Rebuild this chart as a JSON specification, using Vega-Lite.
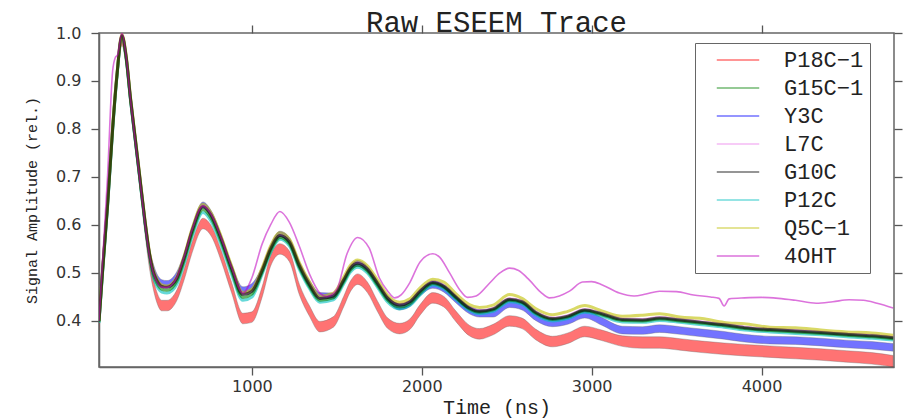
{
"$schema":"https://vega.github.io/schema/vega-lite/v6.json",
"width":795,"height":334,
"autosize":{"type":"none"},
"padding":{"left":99,"top":33,"right":17,"bottom":52},
"background":"white",
"title":{"text":"Raw ESEEM Trace","font":"Liberation Mono","fontSize":29,"fontWeight":"normal","color":"#222","offset":-14,"anchor":"middle"},
"config":{
"view":{"stroke":"#666","strokeWidth":1.5},
"axis":{"grid":false,"domainColor":"#666","domainWidth":1.5,"tickColor":"#555","tickWidth":1.3,"tickSize":8,"labelFont":"DejaVu Sans","labelFontSize":16,"labelColor":"#333","titleFont":"Liberation Mono","titleColor":"#222","titleFontWeight":"normal"}
},
"datasets":{
"bands":[
{"s":"P18C−1","t":100,"lo":0.379,"hi":0.401},{"s":"P18C−1","t":120,"lo":0.479,"hi":0.501},{"s":"P18C−1","t":150,"lo":0.619,"hi":0.641},{"s":"P18C−1","t":180,"lo":0.779,"hi":0.801},{"s":"P18C−1","t":205,"lo":0.889,"hi":0.911},{"s":"P18C−1","t":235,"lo":0.974,"hi":0.996},{"s":"P18C−1","t":260,"lo":0.929,"hi":0.951},{"s":"P18C−1","t":285,"lo":0.844,"hi":0.866},{"s":"P18C−1","t":310,"lo":0.769,"hi":0.791},{"s":"P18C−1","t":340,"lo":0.679,"hi":0.701},{"s":"P18C−1","t":370,"lo":0.584,"hi":0.606},{"s":"P18C−1","t":395,"lo":0.514,"hi":0.536},{"s":"P18C−1","t":418,"lo":0.469,"hi":0.491},{"s":"P18C−1","t":440,"lo":0.439,"hi":0.461},{"s":"P18C−1","t":470,"lo":0.421,"hi":0.443},{"s":"P18C−1","t":500,"lo":0.421,"hi":0.443},{"s":"P18C−1","t":530,"lo":0.427,"hi":0.449},{"s":"P18C−1","t":560,"lo":0.444,"hi":0.466},{"s":"P18C−1","t":600,"lo":0.484,"hi":0.506},{"s":"P18C−1","t":650,"lo":0.544,"hi":0.566},{"s":"P18C−1","t":712,"lo":0.592,"hi":0.614},{"s":"P18C−1","t":760,"lo":0.577,"hi":0.599},{"s":"P18C−1","t":820,"lo":0.524,"hi":0.546},{"s":"P18C−1","t":880,"lo":0.459,"hi":0.481},{"s":"P18C−1","t":947,"lo":0.394,"hi":0.416},{"s":"P18C−1","t":1000,"lo":0.397,"hi":0.419},{"s":"P18C−1","t":1060,"lo":0.449,"hi":0.471},{"s":"P18C−1","t":1110,"lo":0.514,"hi":0.536},{"s":"P18C−1","t":1165,"lo":0.539,"hi":0.561},{"s":"P18C−1","t":1220,"lo":0.524,"hi":0.546},{"s":"P18C−1","t":1280,"lo":0.454,"hi":0.476},{"s":"P18C−1","t":1340,"lo":0.409,"hi":0.431},{"s":"P18C−1","t":1400,"lo":0.377,"hi":0.399},{"s":"P18C−1","t":1480,"lo":0.387,"hi":0.409},{"s":"P18C−1","t":1540,"lo":0.429,"hi":0.451},{"s":"P18C−1","t":1580,"lo":0.461,"hi":0.483},{"s":"P18C−1","t":1623,"lo":0.476,"hi":0.498},{"s":"P18C−1","t":1680,"lo":0.459,"hi":0.481},{"s":"P18C−1","t":1740,"lo":0.419,"hi":0.441},{"s":"P18C−1","t":1800,"lo":0.384,"hi":0.406},{"s":"P18C−1","t":1870,"lo":0.373,"hi":0.395},{"s":"P18C−1","t":1930,"lo":0.382,"hi":0.404},{"s":"P18C−1","t":1990,"lo":0.412,"hi":0.434},{"s":"P18C−1","t":2065,"lo":0.437,"hi":0.459},{"s":"P18C−1","t":2130,"lo":0.429,"hi":0.451},{"s":"P18C−1","t":2200,"lo":0.399,"hi":0.421},{"s":"P18C−1","t":2280,"lo":0.369,"hi":0.391},{"s":"P18C−1","t":2340,"lo":0.362,"hi":0.384},{"s":"P18C−1","t":2420,"lo":0.371,"hi":0.393},{"s":"P18C−1","t":2517,"lo":0.389,"hi":0.411},{"s":"P18C−1","t":2590,"lo":0.384,"hi":0.406},{"s":"P18C−1","t":2670,"lo":0.361,"hi":0.383},{"s":"P18C−1","t":2770,"lo":0.346,"hi":0.368},{"s":"P18C−1","t":2860,"lo":0.353,"hi":0.375},{"s":"P18C−1","t":2960,"lo":0.367,"hi":0.389},{"s":"P18C−1","t":3060,"lo":0.359,"hi":0.381},{"s":"P18C−1","t":3180,"lo":0.347,"hi":0.369},{"s":"P18C−1","t":3300,"lo":0.343,"hi":0.367},{"s":"P18C−1","t":3400,"lo":0.343,"hi":0.367},{"s":"P18C−1","t":3520,"lo":0.339,"hi":0.363},{"s":"P18C−1","t":3650,"lo":0.334,"hi":0.358},{"s":"P18C−1","t":3780,"lo":0.33,"hi":0.354},{"s":"P18C−1","t":3900,"lo":0.327,"hi":0.351},{"s":"P18C−1","t":4050,"lo":0.324,"hi":0.348},{"s":"P18C−1","t":4200,"lo":0.321,"hi":0.345},{"s":"P18C−1","t":4350,"lo":0.318,"hi":0.342},{"s":"P18C−1","t":4500,"lo":0.314,"hi":0.338},{"s":"P18C−1","t":4650,"lo":0.31,"hi":0.334},{"s":"P18C−1","t":4775,"lo":0.304,"hi":0.328},
{"s":"Y3C","t":100,"lo":0.394,"hi":0.406},{"s":"Y3C","t":120,"lo":0.494,"hi":0.506},{"s":"Y3C","t":150,"lo":0.634,"hi":0.646},{"s":"Y3C","t":180,"lo":0.794,"hi":0.806},{"s":"Y3C","t":205,"lo":0.904,"hi":0.916},{"s":"Y3C","t":235,"lo":0.989,"hi":1.0},{"s":"Y3C","t":260,"lo":0.944,"hi":0.956},{"s":"Y3C","t":285,"lo":0.859,"hi":0.871},{"s":"Y3C","t":310,"lo":0.784,"hi":0.796},{"s":"Y3C","t":340,"lo":0.694,"hi":0.706},{"s":"Y3C","t":370,"lo":0.604,"hi":0.616},{"s":"Y3C","t":395,"lo":0.542,"hi":0.554},{"s":"Y3C","t":418,"lo":0.509,"hi":0.521},{"s":"Y3C","t":440,"lo":0.487,"hi":0.499},{"s":"Y3C","t":470,"lo":0.474,"hi":0.486},{"s":"Y3C","t":500,"lo":0.472,"hi":0.484},{"s":"Y3C","t":530,"lo":0.477,"hi":0.489},{"s":"Y3C","t":560,"lo":0.492,"hi":0.504},{"s":"Y3C","t":600,"lo":0.528,"hi":0.54},{"s":"Y3C","t":650,"lo":0.588,"hi":0.6},{"s":"Y3C","t":712,"lo":0.636,"hi":0.648},{"s":"Y3C","t":760,"lo":0.618,"hi":0.63},{"s":"Y3C","t":820,"lo":0.568,"hi":0.58},{"s":"Y3C","t":880,"lo":0.508,"hi":0.52},{"s":"Y3C","t":947,"lo":0.459,"hi":0.471},{"s":"Y3C","t":1000,"lo":0.466,"hi":0.478},{"s":"Y3C","t":1060,"lo":0.502,"hi":0.514},{"s":"Y3C","t":1110,"lo":0.547,"hi":0.559},{"s":"Y3C","t":1165,"lo":0.575,"hi":0.587},{"s":"Y3C","t":1220,"lo":0.562,"hi":0.574},{"s":"Y3C","t":1280,"lo":0.512,"hi":0.524},{"s":"Y3C","t":1340,"lo":0.472,"hi":0.484},{"s":"Y3C","t":1400,"lo":0.447,"hi":0.459},{"s":"Y3C","t":1480,"lo":0.446,"hi":0.458},{"s":"Y3C","t":1540,"lo":0.479,"hi":0.491},{"s":"Y3C","t":1580,"lo":0.504,"hi":0.516},{"s":"Y3C","t":1623,"lo":0.514,"hi":0.526},{"s":"Y3C","t":1680,"lo":0.502,"hi":0.514},{"s":"Y3C","t":1740,"lo":0.472,"hi":0.484},{"s":"Y3C","t":1800,"lo":0.441,"hi":0.453},{"s":"Y3C","t":1870,"lo":0.423,"hi":0.435},{"s":"Y3C","t":1930,"lo":0.43,"hi":0.442},{"s":"Y3C","t":1990,"lo":0.452,"hi":0.464},{"s":"Y3C","t":2065,"lo":0.468,"hi":0.484},{"s":"Y3C","t":2130,"lo":0.46,"hi":0.476},{"s":"Y3C","t":2200,"lo":0.438,"hi":0.454},{"s":"Y3C","t":2280,"lo":0.415,"hi":0.431},{"s":"Y3C","t":2340,"lo":0.408,"hi":0.424},{"s":"Y3C","t":2420,"lo":0.408,"hi":0.424},{"s":"Y3C","t":2517,"lo":0.428,"hi":0.444},{"s":"Y3C","t":2590,"lo":0.423,"hi":0.439},{"s":"Y3C","t":2670,"lo":0.401,"hi":0.417},{"s":"Y3C","t":2770,"lo":0.388,"hi":0.404},{"s":"Y3C","t":2860,"lo":0.393,"hi":0.409},{"s":"Y3C","t":2960,"lo":0.406,"hi":0.422},{"s":"Y3C","t":3060,"lo":0.391,"hi":0.407},{"s":"Y3C","t":3180,"lo":0.373,"hi":0.389},{"s":"Y3C","t":3300,"lo":0.372,"hi":0.388},{"s":"Y3C","t":3400,"lo":0.376,"hi":0.392},{"s":"Y3C","t":3520,"lo":0.372,"hi":0.388},{"s":"Y3C","t":3650,"lo":0.367,"hi":0.383},{"s":"Y3C","t":3780,"lo":0.362,"hi":0.378},{"s":"Y3C","t":3900,"lo":0.356,"hi":0.372},{"s":"Y3C","t":4050,"lo":0.352,"hi":0.368},{"s":"Y3C","t":4200,"lo":0.351,"hi":0.367},{"s":"Y3C","t":4350,"lo":0.348,"hi":0.364},{"s":"Y3C","t":4500,"lo":0.344,"hi":0.36},{"s":"Y3C","t":4650,"lo":0.341,"hi":0.357},{"s":"Y3C","t":4775,"lo":0.337,"hi":0.353}
],
"cluster":[
{"s":"L7C","t":100,"y":0.401},{"s":"L7C","t":120,"y":0.501},{"s":"L7C","t":150,"y":0.641},{"s":"L7C","t":180,"y":0.801},{"s":"L7C","t":205,"y":0.911},{"s":"L7C","t":235,"y":0.996},{"s":"L7C","t":260,"y":0.951},{"s":"L7C","t":285,"y":0.866},{"s":"L7C","t":310,"y":0.791},{"s":"L7C","t":340,"y":0.701},{"s":"L7C","t":370,"y":0.611},{"s":"L7C","t":395,"y":0.546},{"s":"L7C","t":418,"y":0.506},{"s":"L7C","t":440,"y":0.486},{"s":"L7C","t":470,"y":0.473},{"s":"L7C","t":500,"y":0.471},{"s":"L7C","t":530,"y":0.476},{"s":"L7C","t":560,"y":0.491},{"s":"L7C","t":600,"y":0.531},{"s":"L7C","t":650,"y":0.591},{"s":"L7C","t":712,"y":0.639},{"s":"L7C","t":760,"y":0.621},{"s":"L7C","t":820,"y":0.571},{"s":"L7C","t":880,"y":0.511},{"s":"L7C","t":947,"y":0.456},{"s":"L7C","t":1000,"y":0.463},{"s":"L7C","t":1060,"y":0.506},{"s":"L7C","t":1110,"y":0.551},{"s":"L7C","t":1165,"y":0.579},{"s":"L7C","t":1220,"y":0.566},{"s":"L7C","t":1280,"y":0.516},{"s":"L7C","t":1340,"y":0.476},{"s":"L7C","t":1400,"y":0.448},{"s":"L7C","t":1480,"y":0.453},{"s":"L7C","t":1540,"y":0.486},{"s":"L7C","t":1580,"y":0.511},{"s":"L7C","t":1623,"y":0.521},{"s":"L7C","t":1680,"y":0.509},{"s":"L7C","t":1740,"y":0.479},{"s":"L7C","t":1800,"y":0.448},{"s":"L7C","t":1870,"y":0.434},{"s":"L7C","t":1930,"y":0.441},{"s":"L7C","t":1990,"y":0.463},{"s":"L7C","t":2065,"y":0.481},{"s":"L7C","t":2130,"y":0.473},{"s":"L7C","t":2200,"y":0.451},{"s":"L7C","t":2280,"y":0.428},{"s":"L7C","t":2340,"y":0.421},{"s":"L7C","t":2420,"y":0.426},{"s":"L7C","t":2517,"y":0.446},{"s":"L7C","t":2590,"y":0.441},{"s":"L7C","t":2670,"y":0.419},{"s":"L7C","t":2770,"y":0.406},{"s":"L7C","t":2860,"y":0.411},{"s":"L7C","t":2960,"y":0.424},{"s":"L7C","t":3060,"y":0.416},{"s":"L7C","t":3180,"y":0.404},{"s":"L7C","t":3300,"y":0.403},{"s":"L7C","t":3400,"y":0.407},{"s":"L7C","t":3520,"y":0.403},{"s":"L7C","t":3650,"y":0.398},{"s":"L7C","t":3780,"y":0.393},{"s":"L7C","t":3900,"y":0.387},{"s":"L7C","t":4050,"y":0.383},{"s":"L7C","t":4200,"y":0.38},{"s":"L7C","t":4350,"y":0.377},{"s":"L7C","t":4500,"y":0.373},{"s":"L7C","t":4650,"y":0.37},{"s":"L7C","t":4775,"y":0.366},
{"s":"P12C","t":100,"y":0.396},{"s":"P12C","t":120,"y":0.496},{"s":"P12C","t":150,"y":0.636},{"s":"P12C","t":180,"y":0.796},{"s":"P12C","t":205,"y":0.906},{"s":"P12C","t":235,"y":0.991},{"s":"P12C","t":260,"y":0.946},{"s":"P12C","t":285,"y":0.861},{"s":"P12C","t":310,"y":0.786},{"s":"P12C","t":340,"y":0.696},{"s":"P12C","t":370,"y":0.606},{"s":"P12C","t":395,"y":0.541},{"s":"P12C","t":418,"y":0.493},{"s":"P12C","t":440,"y":0.473},{"s":"P12C","t":470,"y":0.46},{"s":"P12C","t":500,"y":0.458},{"s":"P12C","t":530,"y":0.463},{"s":"P12C","t":560,"y":0.478},{"s":"P12C","t":600,"y":0.518},{"s":"P12C","t":650,"y":0.578},{"s":"P12C","t":712,"y":0.626},{"s":"P12C","t":760,"y":0.608},{"s":"P12C","t":820,"y":0.558},{"s":"P12C","t":880,"y":0.498},{"s":"P12C","t":947,"y":0.443},{"s":"P12C","t":1000,"y":0.45},{"s":"P12C","t":1060,"y":0.497},{"s":"P12C","t":1110,"y":0.542},{"s":"P12C","t":1165,"y":0.57},{"s":"P12C","t":1220,"y":0.557},{"s":"P12C","t":1280,"y":0.507},{"s":"P12C","t":1340,"y":0.467},{"s":"P12C","t":1400,"y":0.439},{"s":"P12C","t":1480,"y":0.444},{"s":"P12C","t":1540,"y":0.477},{"s":"P12C","t":1580,"y":0.502},{"s":"P12C","t":1623,"y":0.512},{"s":"P12C","t":1680,"y":0.5},{"s":"P12C","t":1740,"y":0.47},{"s":"P12C","t":1800,"y":0.439},{"s":"P12C","t":1870,"y":0.425},{"s":"P12C","t":1930,"y":0.432},{"s":"P12C","t":1990,"y":0.454},{"s":"P12C","t":2065,"y":0.475},{"s":"P12C","t":2130,"y":0.467},{"s":"P12C","t":2200,"y":0.445},{"s":"P12C","t":2280,"y":0.422},{"s":"P12C","t":2340,"y":0.415},{"s":"P12C","t":2420,"y":0.42},{"s":"P12C","t":2517,"y":0.44},{"s":"P12C","t":2590,"y":0.435},{"s":"P12C","t":2670,"y":0.413},{"s":"P12C","t":2770,"y":0.4},{"s":"P12C","t":2860,"y":0.405},{"s":"P12C","t":2960,"y":0.418},{"s":"P12C","t":3060,"y":0.41},{"s":"P12C","t":3180,"y":0.398},{"s":"P12C","t":3300,"y":0.397},{"s":"P12C","t":3400,"y":0.401},{"s":"P12C","t":3520,"y":0.397},{"s":"P12C","t":3650,"y":0.392},{"s":"P12C","t":3780,"y":0.387},{"s":"P12C","t":3900,"y":0.381},{"s":"P12C","t":4050,"y":0.377},{"s":"P12C","t":4200,"y":0.374},{"s":"P12C","t":4350,"y":0.371},{"s":"P12C","t":4500,"y":0.367},{"s":"P12C","t":4650,"y":0.364},{"s":"P12C","t":4775,"y":0.36},
{"s":"G15C−1","t":100,"y":0.398},{"s":"G15C−1","t":120,"y":0.498},{"s":"G15C−1","t":150,"y":0.638},{"s":"G15C−1","t":180,"y":0.798},{"s":"G15C−1","t":205,"y":0.908},{"s":"G15C−1","t":235,"y":0.993},{"s":"G15C−1","t":260,"y":0.948},{"s":"G15C−1","t":285,"y":0.863},{"s":"G15C−1","t":310,"y":0.788},{"s":"G15C−1","t":340,"y":0.698},{"s":"G15C−1","t":370,"y":0.608},{"s":"G15C−1","t":395,"y":0.543},{"s":"G15C−1","t":418,"y":0.499},{"s":"G15C−1","t":440,"y":0.479},{"s":"G15C−1","t":470,"y":0.466},{"s":"G15C−1","t":500,"y":0.464},{"s":"G15C−1","t":530,"y":0.469},{"s":"G15C−1","t":560,"y":0.484},{"s":"G15C−1","t":600,"y":0.524},{"s":"G15C−1","t":650,"y":0.584},{"s":"G15C−1","t":712,"y":0.632},{"s":"G15C−1","t":760,"y":0.614},{"s":"G15C−1","t":820,"y":0.564},{"s":"G15C−1","t":880,"y":0.504},{"s":"G15C−1","t":947,"y":0.449},{"s":"G15C−1","t":1000,"y":0.456},{"s":"G15C−1","t":1060,"y":0.501},{"s":"G15C−1","t":1110,"y":0.546},{"s":"G15C−1","t":1165,"y":0.574},{"s":"G15C−1","t":1220,"y":0.561},{"s":"G15C−1","t":1280,"y":0.511},{"s":"G15C−1","t":1340,"y":0.471},{"s":"G15C−1","t":1400,"y":0.443},{"s":"G15C−1","t":1480,"y":0.448},{"s":"G15C−1","t":1540,"y":0.481},{"s":"G15C−1","t":1580,"y":0.506},{"s":"G15C−1","t":1623,"y":0.516},{"s":"G15C−1","t":1680,"y":0.504},{"s":"G15C−1","t":1740,"y":0.474},{"s":"G15C−1","t":1800,"y":0.443},{"s":"G15C−1","t":1870,"y":0.429},{"s":"G15C−1","t":1930,"y":0.436},{"s":"G15C−1","t":1990,"y":0.458},{"s":"G15C−1","t":2065,"y":0.478},{"s":"G15C−1","t":2130,"y":0.47},{"s":"G15C−1","t":2200,"y":0.448},{"s":"G15C−1","t":2280,"y":0.425},{"s":"G15C−1","t":2340,"y":0.418},{"s":"G15C−1","t":2420,"y":0.423},{"s":"G15C−1","t":2517,"y":0.443},{"s":"G15C−1","t":2590,"y":0.438},{"s":"G15C−1","t":2670,"y":0.416},{"s":"G15C−1","t":2770,"y":0.403},{"s":"G15C−1","t":2860,"y":0.408},{"s":"G15C−1","t":2960,"y":0.421},{"s":"G15C−1","t":3060,"y":0.413},{"s":"G15C−1","t":3180,"y":0.401},{"s":"G15C−1","t":3300,"y":0.4},{"s":"G15C−1","t":3400,"y":0.404},{"s":"G15C−1","t":3520,"y":0.4},{"s":"G15C−1","t":3650,"y":0.395},{"s":"G15C−1","t":3780,"y":0.39},{"s":"G15C−1","t":3900,"y":0.384},{"s":"G15C−1","t":4050,"y":0.38},{"s":"G15C−1","t":4200,"y":0.377},{"s":"G15C−1","t":4350,"y":0.374},{"s":"G15C−1","t":4500,"y":0.37},{"s":"G15C−1","t":4650,"y":0.367},{"s":"G15C−1","t":4775,"y":0.363},
{"s":"Q5C−1","t":100,"y":0.4},{"s":"Q5C−1","t":120,"y":0.502},{"s":"Q5C−1","t":150,"y":0.644},{"s":"Q5C−1","t":180,"y":0.804},{"s":"Q5C−1","t":205,"y":0.912},{"s":"Q5C−1","t":235,"y":0.997},{"s":"Q5C−1","t":260,"y":0.953},{"s":"Q5C−1","t":285,"y":0.868},{"s":"Q5C−1","t":310,"y":0.793},{"s":"Q5C−1","t":340,"y":0.703},{"s":"Q5C−1","t":370,"y":0.613},{"s":"Q5C−1","t":395,"y":0.548},{"s":"Q5C−1","t":418,"y":0.508},{"s":"Q5C−1","t":440,"y":0.488},{"s":"Q5C−1","t":470,"y":0.475},{"s":"Q5C−1","t":500,"y":0.473},{"s":"Q5C−1","t":530,"y":0.478},{"s":"Q5C−1","t":560,"y":0.493},{"s":"Q5C−1","t":600,"y":0.534},{"s":"Q5C−1","t":650,"y":0.594},{"s":"Q5C−1","t":712,"y":0.643},{"s":"Q5C−1","t":760,"y":0.625},{"s":"Q5C−1","t":820,"y":0.575},{"s":"Q5C−1","t":880,"y":0.515},{"s":"Q5C−1","t":947,"y":0.459},{"s":"Q5C−1","t":1000,"y":0.466},{"s":"Q5C−1","t":1060,"y":0.51},{"s":"Q5C−1","t":1110,"y":0.556},{"s":"Q5C−1","t":1165,"y":0.584},{"s":"Q5C−1","t":1220,"y":0.571},{"s":"Q5C−1","t":1280,"y":0.521},{"s":"Q5C−1","t":1340,"y":0.481},{"s":"Q5C−1","t":1400,"y":0.452},{"s":"Q5C−1","t":1480,"y":0.458},{"s":"Q5C−1","t":1540,"y":0.491},{"s":"Q5C−1","t":1580,"y":0.516},{"s":"Q5C−1","t":1623,"y":0.527},{"s":"Q5C−1","t":1680,"y":0.515},{"s":"Q5C−1","t":1740,"y":0.485},{"s":"Q5C−1","t":1800,"y":0.453},{"s":"Q5C−1","t":1870,"y":0.439},{"s":"Q5C−1","t":1930,"y":0.446},{"s":"Q5C−1","t":1990,"y":0.469},{"s":"Q5C−1","t":2065,"y":0.487},{"s":"Q5C−1","t":2130,"y":0.481},{"s":"Q5C−1","t":2200,"y":0.457},{"s":"Q5C−1","t":2280,"y":0.434},{"s":"Q5C−1","t":2340,"y":0.428},{"s":"Q5C−1","t":2420,"y":0.433},{"s":"Q5C−1","t":2517,"y":0.455},{"s":"Q5C−1","t":2590,"y":0.447},{"s":"Q5C−1","t":2670,"y":0.426},{"s":"Q5C−1","t":2770,"y":0.413},{"s":"Q5C−1","t":2860,"y":0.42},{"s":"Q5C−1","t":2960,"y":0.432},{"s":"Q5C−1","t":3060,"y":0.421},{"s":"Q5C−1","t":3180,"y":0.41},{"s":"Q5C−1","t":3300,"y":0.412},{"s":"Q5C−1","t":3400,"y":0.415},{"s":"Q5C−1","t":3520,"y":0.408},{"s":"Q5C−1","t":3650,"y":0.405},{"s":"Q5C−1","t":3780,"y":0.397},{"s":"Q5C−1","t":3900,"y":0.394},{"s":"Q5C−1","t":4050,"y":0.387},{"s":"Q5C−1","t":4200,"y":0.386},{"s":"Q5C−1","t":4350,"y":0.381},{"s":"Q5C−1","t":4500,"y":0.377},{"s":"Q5C−1","t":4650,"y":0.375},{"s":"Q5C−1","t":4775,"y":0.37},
{"s":"G10C","t":100,"y":0.4},{"s":"G10C","t":120,"y":0.5},{"s":"G10C","t":150,"y":0.64},{"s":"G10C","t":180,"y":0.8},{"s":"G10C","t":205,"y":0.91},{"s":"G10C","t":235,"y":0.995},{"s":"G10C","t":260,"y":0.95},{"s":"G10C","t":285,"y":0.865},{"s":"G10C","t":310,"y":0.79},{"s":"G10C","t":340,"y":0.7},{"s":"G10C","t":370,"y":0.61},{"s":"G10C","t":395,"y":0.545},{"s":"G10C","t":418,"y":0.505},{"s":"G10C","t":440,"y":0.485},{"s":"G10C","t":470,"y":0.472},{"s":"G10C","t":500,"y":0.47},{"s":"G10C","t":530,"y":0.475},{"s":"G10C","t":560,"y":0.49},{"s":"G10C","t":600,"y":0.53},{"s":"G10C","t":650,"y":0.59},{"s":"G10C","t":712,"y":0.638},{"s":"G10C","t":760,"y":0.62},{"s":"G10C","t":820,"y":0.57},{"s":"G10C","t":880,"y":0.51},{"s":"G10C","t":947,"y":0.455},{"s":"G10C","t":1000,"y":0.462},{"s":"G10C","t":1060,"y":0.505},{"s":"G10C","t":1110,"y":0.55},{"s":"G10C","t":1165,"y":0.578},{"s":"G10C","t":1220,"y":0.565},{"s":"G10C","t":1280,"y":0.515},{"s":"G10C","t":1340,"y":0.475},{"s":"G10C","t":1400,"y":0.447},{"s":"G10C","t":1480,"y":0.452},{"s":"G10C","t":1540,"y":0.485},{"s":"G10C","t":1580,"y":0.51},{"s":"G10C","t":1623,"y":0.52},{"s":"G10C","t":1680,"y":0.508},{"s":"G10C","t":1740,"y":0.478},{"s":"G10C","t":1800,"y":0.447},{"s":"G10C","t":1870,"y":0.433},{"s":"G10C","t":1930,"y":0.44},{"s":"G10C","t":1990,"y":0.462},{"s":"G10C","t":2065,"y":0.48},{"s":"G10C","t":2130,"y":0.472},{"s":"G10C","t":2200,"y":0.45},{"s":"G10C","t":2280,"y":0.427},{"s":"G10C","t":2340,"y":0.42},{"s":"G10C","t":2420,"y":0.425},{"s":"G10C","t":2517,"y":0.445},{"s":"G10C","t":2590,"y":0.44},{"s":"G10C","t":2670,"y":0.418},{"s":"G10C","t":2770,"y":0.405},{"s":"G10C","t":2860,"y":0.41},{"s":"G10C","t":2960,"y":0.423},{"s":"G10C","t":3060,"y":0.415},{"s":"G10C","t":3180,"y":0.403},{"s":"G10C","t":3300,"y":0.402},{"s":"G10C","t":3400,"y":0.406},{"s":"G10C","t":3520,"y":0.402},{"s":"G10C","t":3650,"y":0.397},{"s":"G10C","t":3780,"y":0.392},{"s":"G10C","t":3900,"y":0.386},{"s":"G10C","t":4050,"y":0.382},{"s":"G10C","t":4200,"y":0.379},{"s":"G10C","t":4350,"y":0.376},{"s":"G10C","t":4500,"y":0.372},{"s":"G10C","t":4650,"y":0.369},{"s":"G10C","t":4775,"y":0.365}
],
"oht":[
{"s":"4OHT","t":100,"y":0.4},{"s":"4OHT","t":120,"y":0.52},{"s":"4OHT","t":150,"y":0.7},{"s":"4OHT","t":180,"y":0.92},{"s":"4OHT","t":195,"y":0.948},{"s":"4OHT","t":210,"y":0.955},{"s":"4OHT","t":235,"y":1.0},{"s":"4OHT","t":260,"y":0.95},{"s":"4OHT","t":285,"y":0.862},{"s":"4OHT","t":310,"y":0.785},{"s":"4OHT","t":340,"y":0.695},{"s":"4OHT","t":370,"y":0.605},{"s":"4OHT","t":395,"y":0.54},{"s":"4OHT","t":418,"y":0.502},{"s":"4OHT","t":440,"y":0.482},{"s":"4OHT","t":470,"y":0.47},{"s":"4OHT","t":500,"y":0.47},{"s":"4OHT","t":530,"y":0.476},{"s":"4OHT","t":560,"y":0.492},{"s":"4OHT","t":600,"y":0.532},{"s":"4OHT","t":650,"y":0.592},{"s":"4OHT","t":712,"y":0.64},{"s":"4OHT","t":760,"y":0.622},{"s":"4OHT","t":820,"y":0.572},{"s":"4OHT","t":880,"y":0.512},{"s":"4OHT","t":947,"y":0.458},{"s":"4OHT","t":1000,"y":0.49},{"s":"4OHT","t":1060,"y":0.56},{"s":"4OHT","t":1110,"y":0.6},{"s":"4OHT","t":1165,"y":0.628},{"s":"4OHT","t":1220,"y":0.606},{"s":"4OHT","t":1280,"y":0.555},{"s":"4OHT","t":1340,"y":0.497},{"s":"4OHT","t":1400,"y":0.458},{"s":"4OHT","t":1440,"y":0.451},{"s":"4OHT","t":1500,"y":0.466},{"s":"4OHT","t":1560,"y":0.54},{"s":"4OHT","t":1623,"y":0.574},{"s":"4OHT","t":1690,"y":0.552},{"s":"4OHT","t":1750,"y":0.49},{"s":"4OHT","t":1800,"y":0.462},{"s":"4OHT","t":1840,"y":0.448},{"s":"4OHT","t":1880,"y":0.455},{"s":"4OHT","t":1930,"y":0.48},{"s":"4OHT","t":1990,"y":0.523},{"s":"4OHT","t":2065,"y":0.54},{"s":"4OHT","t":2105,"y":0.533},{"s":"4OHT","t":2164,"y":0.5},{"s":"4OHT","t":2223,"y":0.465},{"s":"4OHT","t":2270,"y":0.449},{"s":"4OHT","t":2320,"y":0.452},{"s":"4OHT","t":2400,"y":0.479},{"s":"4OHT","t":2460,"y":0.5},{"s":"4OHT","t":2517,"y":0.51},{"s":"4OHT","t":2570,"y":0.505},{"s":"4OHT","t":2634,"y":0.485},{"s":"4OHT","t":2700,"y":0.46},{"s":"4OHT","t":2752,"y":0.448},{"s":"4OHT","t":2810,"y":0.452},{"s":"4OHT","t":2870,"y":0.462},{"s":"4OHT","t":2946,"y":0.481},{"s":"4OHT","t":3000,"y":0.482},{"s":"4OHT","t":3063,"y":0.475},{"s":"4OHT","t":3163,"y":0.458},{"s":"4OHT","t":3250,"y":0.452},{"s":"4OHT","t":3320,"y":0.456},{"s":"4OHT","t":3400,"y":0.462},{"s":"4OHT","t":3500,"y":0.461},{"s":"4OHT","t":3600,"y":0.454},{"s":"4OHT","t":3700,"y":0.45},{"s":"4OHT","t":3750,"y":0.447},{"s":"4OHT","t":3780,"y":0.431},{"s":"4OHT","t":3810,"y":0.446},{"s":"4OHT","t":3900,"y":0.448},{"s":"4OHT","t":4000,"y":0.449},{"s":"4OHT","t":4100,"y":0.447},{"s":"4OHT","t":4200,"y":0.443},{"s":"4OHT","t":4322,"y":0.437},{"s":"4OHT","t":4420,"y":0.44},{"s":"4OHT","t":4516,"y":0.444},{"s":"4OHT","t":4600,"y":0.443},{"s":"4OHT","t":4680,"y":0.437},{"s":"4OHT","t":4775,"y":0.427}
]
},
"layer":[
{
"data":{"name":"bands"},
"mark":{"type":"area","interpolate":"monotone","fillOpacity":0.55,"stroke":"#666","strokeWidth":0.7,"strokeOpacity":0.5,"clip":true},
"encoding":{
"x":{"field":"t","type":"quantitative","scale":{"domain":[100,4780],"nice":false,"zero":false},"axis":{"values":[1000,2000,3000,4000],"format":"d","labelPadding":3,"title":"Time (ns)","titleFontSize":20,"titlePadding":3}},
"y":{"field":"lo","type":"quantitative","scale":{"domain":[0.304,1.0],"nice":false,"zero":false},"axis":{"values":[0.4,0.5,0.6,0.7,0.8,0.9,1.0],"format":".1f","labelPadding":10,"title":"Signal Amplitude (rel.)","titleFontSize":15,"titlePadding":16}},
"y2":{"field":"hi"},
"fill":{"field":"s","type":"nominal","scale":{"domain":["P18C−1","Y3C"],"range":["#ff0000","#0000ff"]},"legend":null}
}
},
{
"data":{"name":"cluster"},
"mark":{"type":"line","interpolate":"monotone","strokeWidth":3,"opacity":0.6,"clip":true},
"encoding":{
"x":{"field":"t","type":"quantitative","scale":{"domain":[100,4780],"nice":false,"zero":false},"axis":{"orient":"top","values":[1000,2000,3000,4000],"labels":false,"ticks":true,"tickSize":8,"domain":false,"title":null}},
"y":{"field":"y","type":"quantitative","scale":{"domain":[0.304,1.0],"nice":false,"zero":false},"axis":{"orient":"right","values":[0.4,0.5,0.6,0.7,0.8,0.9,1.0],"labels":false,"ticks":true,"tickSize":8,"domain":false,"title":null}},
"stroke":{"field":"s","type":"nominal","scale":{"domain":["P18C−1","G15C−1","Y3C","L7C","G10C","P12C","Q5C−1","4OHT"],"range":["#ff0000","#008000","#0000ff","#ee82ee","#000000","#00bfbf","#bfbf00","#bf00bf"]},
"legend":{"title":null,"orient":"none","legendX":596,"legendY":10,"direction":"vertical","symbolType":"M-3,0H3","symbolSize":200,"symbolStrokeWidth":1.5,"symbolOpacity":0.45,"symbolOffset":26,"labelFont":"Liberation Mono","labelFontSize":22,"labelColor":"#222","labelOffset":35,"padding":6,"rowPadding":6,"strokeColor":"#666","fillColor":"white"}}
}
},
{
"data":{"name":"oht"},
"mark":{"type":"line","interpolate":"monotone","strokeWidth":1.6,"opacity":0.55,"clip":true},
"encoding":{
"x":{"field":"t","type":"quantitative","scale":{"domain":[100,4780],"nice":false,"zero":false},"axis":null},
"y":{"field":"y","type":"quantitative","scale":{"domain":[0.304,1.0],"nice":false,"zero":false},"axis":null},
"stroke":{"field":"s","type":"nominal"}
}
}
],
"resolve":{"scale":{"x":"independent","y":"independent"}}
}
